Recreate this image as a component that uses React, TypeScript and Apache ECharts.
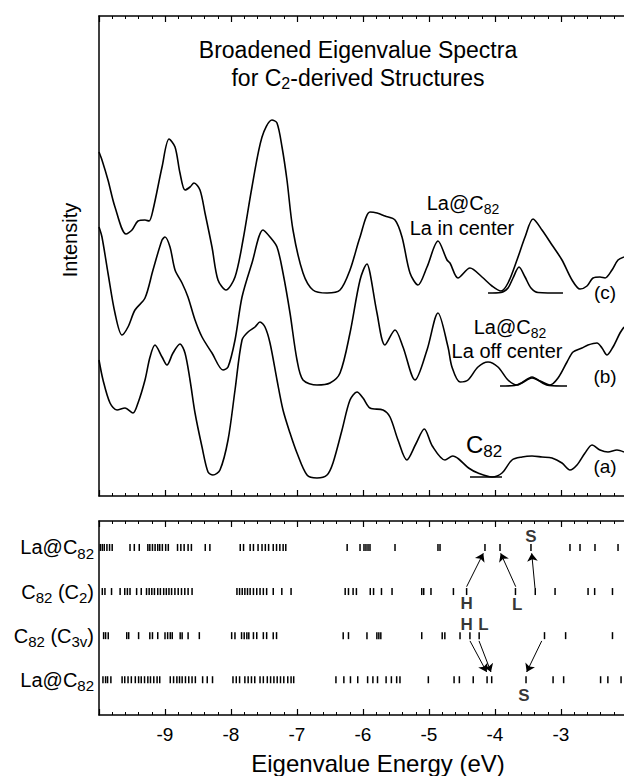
import React, { useEffect, useRef } from 'react';
import * as echarts from 'echarts';

const FONT = "'Liberation Sans', Arial, Helvetica, sans-serif";

// Energy axis (eV)
const energyMin = -10;
const energyMax = -2;

// Broadened spectra: [energy eV, intensity (arb. units)]
const curveC: [number, number][] = [
  [-10.0, 344], [-9.955, 336], [-9.864, 316], [-9.758, 289], [-9.591, 262], [-9.5, 266], [-9.409, 275],
  [-9.303, 276], [-9.242, 275], [-9.182, 286], [-9.045, 329], [-8.939, 357], [-8.848, 349], [-8.773, 323],
  [-8.697, 306], [-8.621, 309], [-8.561, 313], [-8.47, 306], [-8.394, 283], [-8.288, 249], [-8.197, 216],
  [-8.076, 206], [-7.939, 219], [-7.818, 256], [-7.682, 309], [-7.53, 359], [-7.379, 376], [-7.303, 373],
  [-7.227, 349], [-7.152, 316], [-7.061, 266], [-6.909, 223], [-6.758, 206], [-6.545, 203], [-6.348, 206],
  [-6.197, 226], [-6.045, 259], [-5.894, 284], [-5.788, 283], [-5.667, 280], [-5.515, 276], [-5.409, 259],
  [-5.288, 223], [-5.167, 211], [-5.03, 229], [-4.864, 255], [-4.727, 236], [-4.682, 233], [-4.561, 218],
  [-4.379, 228], [-4.197, 219], [-4.045, 210], [-3.909, 205], [-3.803, 213], [-3.667, 236], [-3.545, 259],
  [-3.424, 277], [-3.288, 266], [-3.136, 251], [-2.985, 236], [-2.833, 216], [-2.712, 207], [-2.606, 210],
  [-2.515, 218], [-2.409, 219], [-2.333, 218], [-2.227, 226], [-2.136, 236], [-2.045, 239],
];
const peakC: [number, number][] = [
  [-4.106, 203], [-3.909, 203.5], [-3.803, 208], [-3.727, 218], [-3.636, 229], [-3.545, 219],
  [-3.455, 208], [-3.348, 203.5], [-2.97, 203],
];

const curveB: [number, number][] = [
  [-10.0, 269], [-9.955, 259], [-9.864, 223], [-9.758, 183], [-9.652, 161], [-9.561, 169], [-9.455, 186],
  [-9.303, 198], [-9.182, 226], [-9.045, 256], [-9.0, 259], [-8.924, 249], [-8.848, 226], [-8.742, 213],
  [-8.652, 199], [-8.545, 176], [-8.439, 159], [-8.288, 143], [-8.121, 126], [-8.045, 129], [-7.939, 156],
  [-7.833, 199], [-7.682, 233], [-7.515, 266], [-7.409, 259], [-7.303, 249], [-7.212, 223], [-7.106, 183],
  [-7.0, 136], [-6.909, 116], [-6.697, 111], [-6.5, 113], [-6.348, 123], [-6.197, 163], [-6.045, 216],
  [-5.939, 232], [-5.894, 223], [-5.788, 183], [-5.667, 151], [-5.515, 166], [-5.394, 149], [-5.212, 116],
  [-5.03, 146], [-4.864, 183], [-4.712, 149], [-4.652, 129], [-4.53, 114], [-4.409, 116], [-4.258, 129],
  [-4.106, 134], [-3.955, 129], [-3.803, 116], [-3.667, 111], [-3.515, 116], [-3.439, 118], [-3.318, 115],
  [-3.167, 111], [-3.045, 118], [-2.909, 134], [-2.818, 144], [-2.682, 148], [-2.591, 151], [-2.455, 153],
  [-2.379, 148], [-2.303, 141], [-2.212, 149], [-2.106, 163], [-2.045, 169],
];
const peakB: [number, number][] = [
  [-3.924, 110], [-3.7, 110.5], [-3.6, 113], [-3.439, 119], [-3.28, 113], [-3.18, 110.5], [-2.909, 110],
];

const curveA: [number, number][] = [
  [-10.0, 136], [-9.939, 116], [-9.833, 93], [-9.727, 86], [-9.606, 88], [-9.485, 83], [-9.409, 93],
  [-9.303, 116], [-9.227, 139], [-9.152, 151], [-9.045, 139], [-8.97, 131], [-8.879, 143], [-8.773, 152],
  [-8.697, 143], [-8.621, 116], [-8.545, 83], [-8.439, 49], [-8.348, 24], [-8.273, 21], [-8.167, 26],
  [-8.045, 56], [-7.939, 106], [-7.833, 156], [-7.742, 164], [-7.636, 169], [-7.561, 174], [-7.485, 169],
  [-7.409, 153], [-7.303, 116], [-7.212, 86], [-7.106, 63], [-7.0, 43], [-6.848, 21], [-6.697, 18],
  [-6.545, 21], [-6.455, 33], [-6.318, 66], [-6.197, 96], [-6.091, 104], [-6.0, 98], [-5.894, 88],
  [-5.697, 86], [-5.591, 79], [-5.47, 56], [-5.336, 36], [-5.2, 52], [-5.071, 67], [-4.95, 50],
  [-4.758, 36], [-4.64, 40], [-4.55, 37], [-4.4, 28], [-4.258, 23], [-4.045, 19], [-3.894, 23],
  [-3.742, 36], [-3.591, 39], [-3.439, 40], [-3.288, 39], [-3.136, 38], [-2.985, 33], [-2.864, 26],
  [-2.758, 31], [-2.636, 43], [-2.53, 51], [-2.409, 46], [-2.288, 44], [-2.152, 46], [-2.045, 44],
];
const baseA: [number, number][] = [[-4.379, 19], [-3.894, 19]];

// Eigenvalue stick spectra (eV), one list per row
const rowNames = ['La@C82', 'C82 (C2)', 'C82 (C3v)', 'La@C82'];
const levelsLaC82Top = [
  -9.98, -9.95, -9.92, -9.88, -9.84, -9.8, -9.53, -9.465, -9.39, -9.26, -9.23, -9.19, -9.15, -9.11, -9.08,
  -9.04, -8.99, -8.95, -8.81, -8.76, -8.71, -8.65, -8.6, -8.39, -8.32, -7.86, -7.81, -7.71, -7.66, -7.59,
  -7.53, -7.48, -7.43, -7.36, -7.31, -7.26, -7.21, -7.17, -6.24, -6.045, -5.985, -5.955, -5.924, -5.894,
  -5.515, -4.864, -4.833, -4.152, -3.924, -3.455, -2.864, -2.712, -2.485, -2.136,
];
const levelsC2 = [
  -9.95, -9.91, -9.81, -9.68, -9.61, -9.57, -9.53, -9.43, -9.36, -9.28, -9.24, -9.2, -9.16, -9.11, -9.07,
  -9.02, -8.98, -8.94, -8.9, -8.85, -8.8, -8.75, -8.7, -8.65, -8.59, -7.91, -7.87, -7.83, -7.79, -7.75,
  -7.71, -7.66, -7.61, -7.56, -7.51, -7.46, -7.36, -7.23, -7.09, -6.27, -6.22, -6.15, -6.1, -5.89, -5.84,
  -5.72, -5.56, -5.11, -5.08, -4.97, -4.63, -4.43, -3.69, -3.39, -3.09, -2.59, -2.49, -2.22,
];
const levelsC3v = [
  -9.93, -9.9, -9.86, -9.58, -9.55, -9.4, -9.23, -9.19, -9.11, -9.0, -8.96, -8.92, -8.89, -8.77, -8.74,
  -8.65, -8.48, -7.99, -7.94, -7.84, -7.8, -7.76, -7.73, -7.66, -7.61, -7.51, -7.46, -7.36, -7.31, -6.3,
  -6.22, -5.94, -5.79, -5.76, -5.73, -5.11, -4.8, -4.76, -4.53, -4.38, -4.24, -3.25, -2.93, -2.22,
];
const levelsLaC82Bottom = [
  -9.94, -9.9, -9.87, -9.82, -9.65, -9.61, -9.56, -9.51, -9.45, -9.4, -9.36, -9.31, -9.26, -9.22, -9.17,
  -9.12, -9.08, -8.92, -8.87, -8.82, -8.78, -8.74, -8.69, -8.64, -8.59, -8.54, -8.43, -8.36, -8.28, -7.97,
  -7.92, -7.87, -7.79, -7.74, -7.69, -7.64, -7.56, -7.51, -7.45, -7.4, -7.35, -7.3, -7.25, -7.2, -7.14,
  -7.09, -7.05, -6.41, -6.29, -6.19, -6.08, -5.93, -5.85, -5.78, -5.65, -5.57, -5.49, -5.44, -5.01, -4.62,
  -4.54, -4.33, -4.12, -4.05, -3.53, -3.12, -2.96, -2.4, -2.29, -2.09,
];
const stickRows = [levelsLaC82Top, levelsC2, levelsC3v, levelsLaC82Bottom];

// Annotation arrows in (energy, row) coordinates: [from, to]
const arrowsHLS: [number, number][][] = [
  [[-4.43, 1.89], [-4.177, 1.133]],
  [[-3.686, 1.89], [-3.914, 1.133]],
  [[-3.394, 1.92], [-3.444, 1.133]],
  [[-4.379, 3.12], [-4.126, 3.825]],
  [[-4.242, 3.12], [-4.061, 3.825]],
  [[-3.292, 3.12], [-3.52, 3.825]],
];
const markerLetters = [
  { name: 'S', value: [-3.455, 0.76] },
  { name: 'H', value: [-4.429, 2.28] },
  { name: 'L', value: [-3.662, 2.305] },
  { name: 'H', value: [-4.429, 2.74] },
  { name: 'L', value: [-4.177, 2.74] },
  { name: 'S', value: [-3.561, 4.35] },
];

const rowRich = [
  '{m|La@C}{s|82}',
  '{m|C}{s|82}{m| (C}{s|2}{m|)}',
  '{m|C}{s|82}{m| (C}{s|3v}{m|)}',
  '{m|La@C}{s|82}',
];

const subRich = (main: number, sub: number, lh: number) => ({
  m: { fontSize: main, fontFamily: FONT, color: '#000', lineHeight: lh },
  s: { fontSize: sub, fontFamily: FONT, color: '#000', lineHeight: sub + 1, verticalAlign: 'bottom' },
});

function xAxisFor(gridIndex: number, position: string, labels: boolean) {
  return {
    type: 'value',
    gridIndex,
    position,
    min: energyMin,
    max: energyMax,
    interval: 1,
    axisLine: { show: true, onZero: false, lineStyle: { color: '#000', width: 1.5 } },
    axisTick: { show: true, inside: true, length: 6, lineStyle: { color: '#000', width: 1.2 } },
    minorTick: { show: true, splitNumber: 5, length: 3, lineStyle: { color: '#000', width: 1 } },
    splitLine: { show: false },
    minorSplitLine: { show: false },
    axisLabel: {
      show: labels,
      showMinLabel: false,
      showMaxLabel: false,
      margin: 10,
      fontSize: 19,
      fontFamily: FONT,
      color: '#000',
      formatter: (v: number) => String(v),
    },
  };
}

export default function App() {
  const ref = useRef<HTMLDivElement>(null);
  useEffect(() => {
    const chart = echarts.init(ref.current as HTMLDivElement, null, { renderer: 'svg' });
    const lineStyle = { color: '#000', width: 1.6 };
    const curve = (data: [number, number][]) => ({
      type: 'line',
      xAxisIndex: 0,
      yAxisIndex: 0,
      data,
      smooth: 0.3,
      showSymbol: false,
      symbol: 'none',
      lineStyle,
      silent: true,
    });
    const text = (x: number, y: number, t: string, size: number, rich?: any, extra?: any) => ({
      type: 'text',
      x,
      y,
      ...(extra || {}),
      style: {
        text: t,
        fontSize: size,
        fontFamily: FONT,
        fill: '#000',
        align: 'center',
        verticalAlign: 'middle',
        rich,
      },
    });
    const option: any = {
      animation: false,
      backgroundColor: '#fff',
      grid: [
        { left: 99, top: 16, width: 528, height: 480 },
        { left: 99, top: 521, width: 528, height: 194 },
      ],
      xAxis: [
        xAxisFor(0, 'bottom', false),
        xAxisFor(0, 'top', false),
        xAxisFor(1, 'bottom', true),
        xAxisFor(1, 'top', false),
      ],
      yAxis: [
        {
          type: 'value',
          gridIndex: 0,
          min: 0,
          max: 480,
          axisLine: { show: true, lineStyle: { color: '#000', width: 1.5 } },
          axisTick: { show: false },
          axisLabel: { show: false },
          splitLine: { show: false },
        },
        {
          type: 'value',
          gridIndex: 1,
          inverse: true,
          min: 0.4,
          max: 4.8,
          axisLine: { show: true, lineStyle: { color: '#000', width: 1.5 } },
          axisTick: { show: false },
          splitLine: { show: false },
          axisLabel: {
            show: true,
            customValues: [1, 2, 3, 4],
            margin: 5,
            formatter: (v: number) => rowRich[Math.round(v) - 1],
            rich: subRich(20, 15, 27),
          },
        },
      ],
      series: [
        curve(curveC),
        curve(peakC),
        curve(curveB),
        curve(peakB),
        curve(curveA),
        curve(baseA),
        ...stickRows.map((levels, i) => ({
          type: 'scatter',
          name: rowNames[i],
          xAxisIndex: 2,
          yAxisIndex: 1,
          data: levels.map((e) => [e, i + 1]),
          symbol: 'rect',
          symbolSize: [1.5, 7],
          itemStyle: { color: '#000', opacity: 1 },
          silent: true,
        })),
        {
          type: 'lines',
          coordinateSystem: 'cartesian2d',
          xAxisIndex: 2,
          yAxisIndex: 1,
          symbol: ['none', 'arrow'],
          symbolSize: 8,
          lineStyle: { color: '#000', width: 1, opacity: 1 },
          data: arrowsHLS.map((c) => ({ coords: c })),
          silent: true,
        },
        {
          type: 'scatter',
          xAxisIndex: 2,
          yAxisIndex: 1,
          symbolSize: 0,
          data: markerLetters,
          label: {
            show: true,
            position: 'inside',
            formatter: (p: any) => p.name,
            fontSize: 17,
            fontWeight: 'bold',
            fontFamily: FONT,
            color: '#000',
          },
          silent: true,
        },
      ],
      graphic: [
        text(358, 50, 'Broadened Eigenvalue Spectra', 23),
        text(358, 78, '{m|for C}{s|2}{m|-derived Structures}', 23, subRich(23, 16, 27)),
        text(70, 240, 'Intensity', 20, undefined, { rotation: Math.PI / 2 }),
        text(463, 203, '{m|La@C}{s|82}', 20, subRich(20, 14, 26)),
        text(462, 228, 'La in center', 20),
        text(510, 327, '{m|La@C}{s|82}', 20, subRich(20, 14, 26)),
        text(507, 351, 'La off center', 20),
        text(484, 444, '{m|C}{s|82}', 24, subRich(24, 17, 31)),
        text(605, 292, '(c)', 19),
        text(605, 376, '(b)', 19),
        text(605, 466, '(a)', 19),
        text(378, 763, 'Eigenvalue Energy (eV)', 24),
      ],
    };
    chart.setOption(option);
    return () => chart.dispose();
  }, []);
  return (
    <div
      style={{
        position: 'fixed',
        left: 0,
        top: 0,
        width: 624,
        height: 776,
        overflow: 'hidden',
        background: '#fff',
      }}
    >
      <div ref={ref} style={{ width: 628, height: 776 }} />
    </div>
  );
}
